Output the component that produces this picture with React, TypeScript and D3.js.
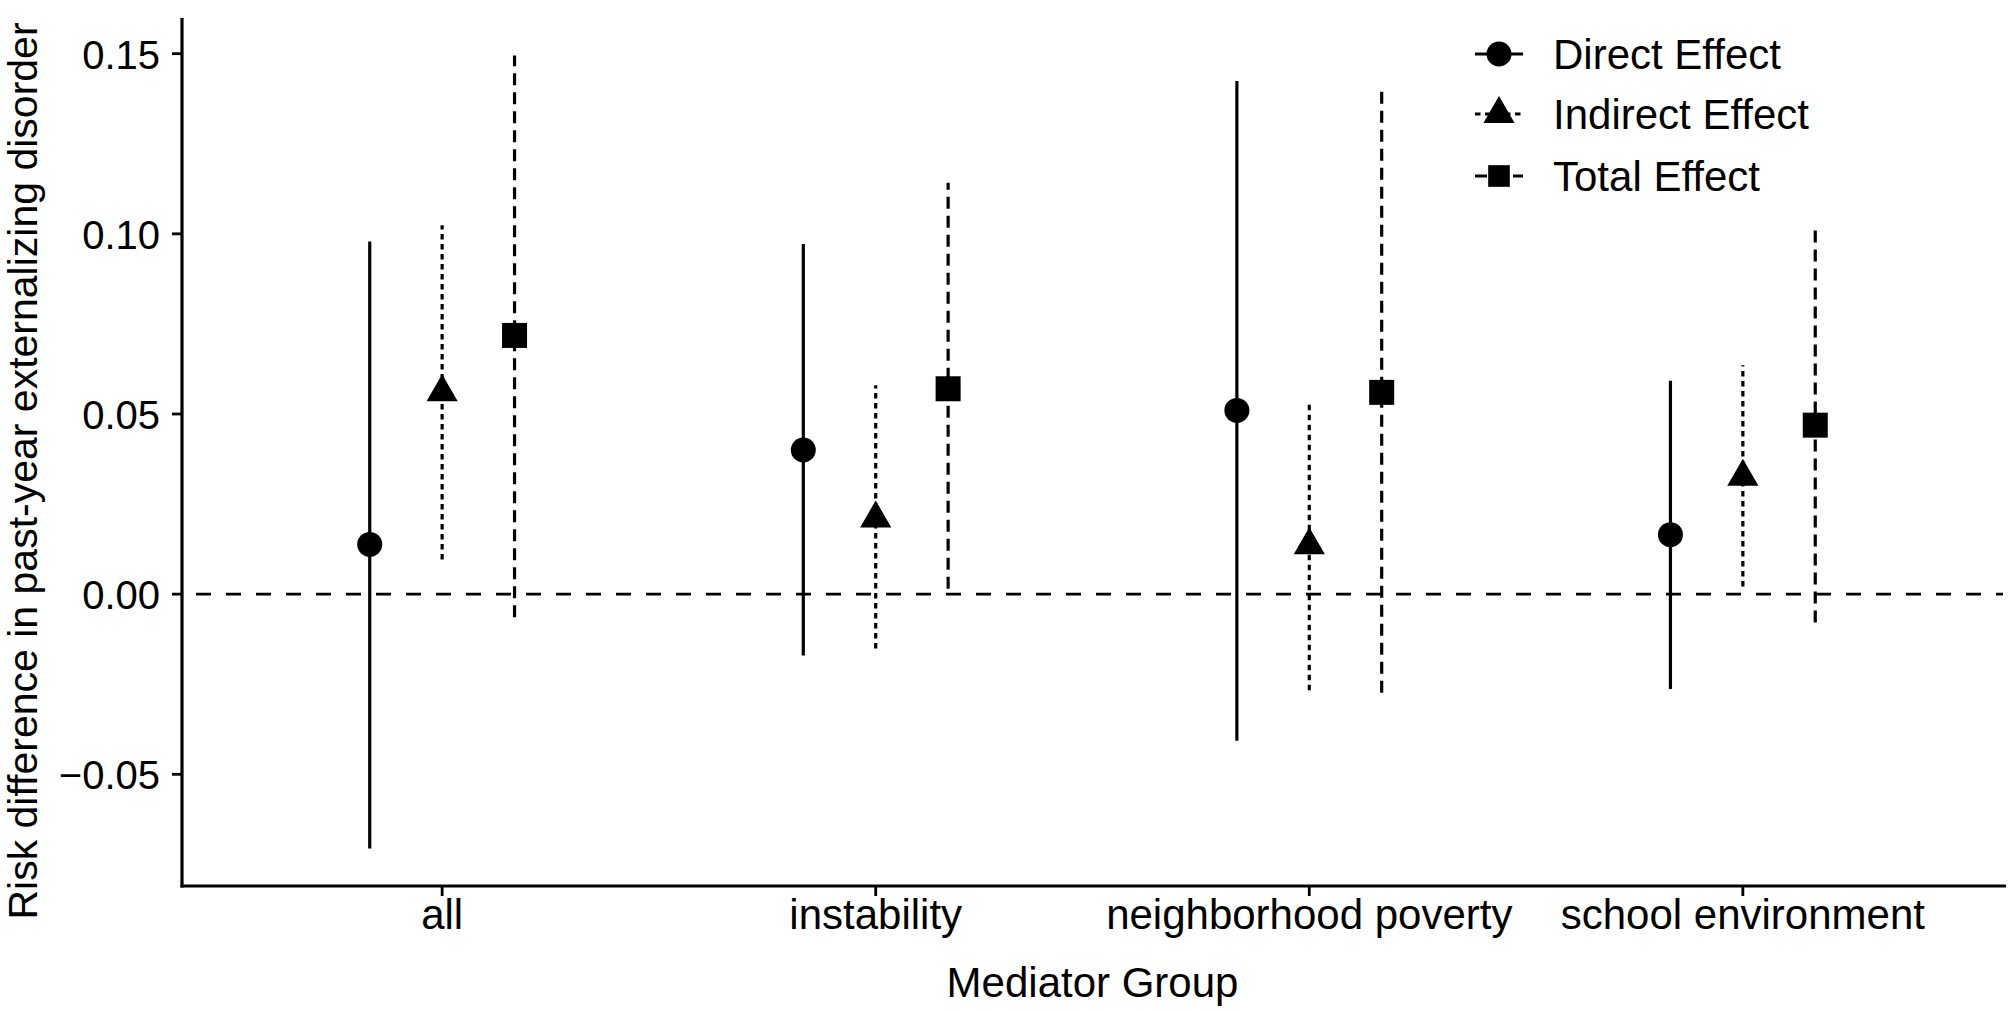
import React from "react";
import * as d3 from "d3";

const categories = ["all", "instability", "neighborhood poverty", "school environment"];
const effects = ["Direct Effect", "Indirect Effect", "Total Effect"];

const directEst = [0.0138, 0.040, 0.051, 0.0165];
const directLo = [-0.0706, -0.017, -0.0407, -0.0263];
const directHi = [0.0979, 0.0972, 0.1424, 0.0592];

const indirectEst = [0.056, 0.021, 0.0136, 0.0326];
const indirectLo = [0.0096, -0.0151, -0.0267, 0.0021];
const indirectHi = [0.1024, 0.058, 0.0535, 0.0635];

const totalEst = [0.0718, 0.057, 0.056, 0.0469];
const totalLo = [-0.0064, 0.0015, -0.0274, -0.0079];
const totalHi = [0.1495, 0.1142, 0.1399, 0.1014];

const yTicks = [-0.05, 0, 0.05, 0.1, 0.15];

const W = 2010;
const H = 1012;
const FONT = "'Liberation Sans', Arial, Helvetica, sans-serif";

const series = [
  { name: effects[0], est: directEst, lo: directLo, hi: directHi, dash: null as string | null, shape: d3.symbolCircle, size: 491 },
  { name: effects[1], est: indirectEst, lo: indirectLo, hi: indirectHi, dash: "5.5 4.5", shape: d3.symbolTriangle, size: 421 },
  { name: effects[2], est: totalEst, lo: totalLo, hi: totalHi, dash: "12 7", shape: d3.symbolSquare, size: 625 },
];

export default function App() {
  const left = 182;
  const right = 2003;
  const top = 18;
  const bottom = 886;

  const x = d3.scalePoint<string>().domain(categories).range([left, right]).padding(0.6);
  const y = d3.scaleLinear().domain([-0.081, 0.1599]).range([bottom, top]);
  const dodge = x.step() * 0.167;

  const fmt = (v: number) => {
    const s = d3.format(".2f")(Math.abs(v));
    return v < 0 ? "\u2212" + s : s;
  };

  const legendX = 1499;
  const legendRows = [54, 114, 176];

  return (
    <svg
      width={W}
      height={H}
      style={{ position: "absolute", left: 0, top: 0, background: "#fff" }}
      fontFamily={FONT}
    >
      <rect x={0} y={0} width={W} height={H} fill="#fff" />
      <line
        x1={left}
        x2={right}
        y1={y(0)}
        y2={y(0)}
        stroke="#000"
        strokeWidth={2.8}
        strokeDasharray="15 15"
        strokeDashoffset={16}
      />
      {series.map((s, si) => (
        <g key={s.name}>
          {categories.map((c, i) => {
            const cx = (x(c) as number) + (si - 1) * dodge;
            const path = d3.symbol().type(s.shape).size(s.size)() as string;
            return (
              <g key={c}>
                <line
                  x1={cx}
                  x2={cx}
                  y1={y(s.lo[i])}
                  y2={y(s.hi[i])}
                  stroke="#000"
                  strokeWidth={3.2}
                  strokeDasharray={s.dash ?? undefined}
                />
                <path d={path} transform={`translate(${cx},${y(s.est[i])})`} fill="#000" />
              </g>
            );
          })}
        </g>
      ))}
      <line x1={left} x2={left} y1={top} y2={bottom + 1.5} stroke="#000" strokeWidth={3.2} />
      <line x1={left - 1.5} x2={right + 3} y1={bottom} y2={bottom} stroke="#000" strokeWidth={3.2} />
      {yTicks.map((t) => (
        <g key={t}>
          <line x1={left - 10} x2={left} y1={y(t)} y2={y(t)} stroke="#000" strokeWidth={2.8} />
          <text x={160} y={y(t) + 15} textAnchor="end" fontSize={40} fill="#000">
            {fmt(t)}
          </text>
        </g>
      ))}
      {categories.map((c) => (
        <g key={c}>
          <line x1={x(c)} x2={x(c)} y1={bottom} y2={bottom + 10} stroke="#000" strokeWidth={2.8} />
          <text x={x(c)} y={929} textAnchor="middle" fontSize={42} fill="#000">
            {c}
          </text>
        </g>
      ))}
      <text x={(left + right) / 2} y={997} textAnchor="middle" fontSize={42} fill="#000">
        Mediator Group
      </text>
      <text
        transform={`translate(37,471) rotate(-90)`}
        textAnchor="middle"
        fontSize={41}
        fill="#000"
      >
        Risk difference in past-year externalizing disorder
      </text>
      {series.map((s, si) => {
        const ly = legendRows[si];
        const path = d3.symbol().type(s.shape).size(s.size * (si === 2 ? 0.75 : 1))() as string;
        return (
          <g key={s.name}>
            <line
              x1={legendX - 24}
              x2={legendX + 24}
              y1={ly}
              y2={ly}
              stroke="#000"
              strokeWidth={3.2}
              strokeDasharray={s.dash ?? undefined}
            />
            <path d={path} transform={`translate(${legendX},${ly})`} fill="#000" />
            <text x={1553} y={ly + 15} fontSize={42} fill="#000">
              {s.name}
            </text>
          </g>
        );
      })}
    </svg>
  );
}
